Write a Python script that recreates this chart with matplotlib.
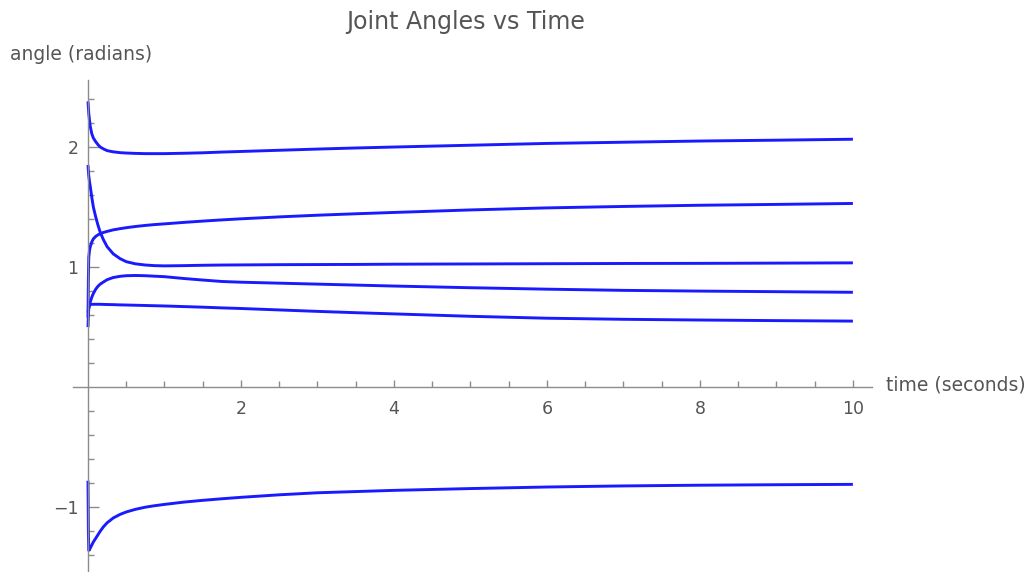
import numpy as np
import matplotlib
matplotlib.use('Agg')
import matplotlib.pyplot as plt
from matplotlib.ticker import FixedLocator

# time samples (seconds)
t = [0, 0.005, 0.01, 0.02, 0.03, 0.05, 0.07, 0.1, 0.13, 0.16, 0.2, 0.25, 0.33, 0.42, 0.5,
     0.62, 0.75, 0.87, 1.0, 1.25, 1.5, 1.75, 2, 2.5, 3, 3.5, 4, 5, 6, 7, 8, 9, 10]

# joint angles (radians)
theta_1 = [2.38, 2.33, 2.28, 2.22, 2.17, 2.11, 2.075, 2.045, 2.02, 2.0, 1.985, 1.97, 1.96, 1.953, 1.95,
           1.947, 1.945, 1.945, 1.945, 1.948, 1.952, 1.958, 1.963, 1.973, 1.983, 1.992, 2.0, 2.015, 2.03, 2.04, 2.05, 2.057, 2.065]
theta_2 = [0.58, 0.9, 1.08, 1.14, 1.17, 1.21, 1.235, 1.255, 1.268, 1.278, 1.288, 1.297, 1.31, 1.32, 1.328,
           1.338, 1.347, 1.354, 1.36, 1.372, 1.383, 1.393, 1.402, 1.418, 1.432, 1.444, 1.455, 1.476, 1.493, 1.505, 1.515, 1.522, 1.53]
theta_3 = [1.85, 1.80, 1.76, 1.71, 1.67, 1.58, 1.50, 1.42, 1.35, 1.29, 1.23, 1.17, 1.11, 1.07, 1.045,
           1.027, 1.017, 1.012, 1.01, 1.012, 1.015, 1.017, 1.018, 1.02, 1.021, 1.022, 1.024, 1.026, 1.028, 1.03, 1.031, 1.033, 1.035]
theta_4 = [0.62, 0.64, 0.66, 0.685, 0.71, 0.75, 0.78, 0.815, 0.84, 0.858, 0.875, 0.895, 0.913, 0.923, 0.928,
           0.93, 0.928, 0.924, 0.92, 0.905, 0.892, 0.88, 0.874, 0.866, 0.858, 0.85, 0.842, 0.828, 0.816, 0.806, 0.8, 0.795, 0.79]
theta_5 = [0.50, 0.6, 0.655, 0.68, 0.688, 0.69, 0.69, 0.69, 0.69, 0.69, 0.689, 0.688, 0.687, 0.685, 0.684,
           0.682, 0.68, 0.678, 0.676, 0.671, 0.666, 0.66, 0.655, 0.643, 0.631, 0.62, 0.61, 0.59, 0.574, 0.565, 0.559, 0.554, 0.55]
theta_6 = [-0.78, -1.2, -1.36, -1.355, -1.34, -1.315, -1.29, -1.26, -1.23, -1.2, -1.165, -1.13, -1.09, -1.06, -1.04,
           -1.018, -1.0, -0.988, -0.977, -0.958, -0.943, -0.93, -0.918, -0.897, -0.88, -0.87, -0.86, -0.845, -0.832, -0.823, -0.817, -0.813, -0.81]

x_ticks = [2, 4, 6, 8, 10]
y_ticks = [-1, 1, 2]

W, H = 1033, 572
fig = plt.figure(figsize=(W / 100, H / 100), dpi=100)
# axes box in pixels: left 72.7, right 872, top 79.8, bottom 572
ax = fig.add_axes([72.7 / W, 0.0, (872 - 72.7) / W, (572 - 79.8) / H])

line_col = '#1a1aff'
for th in [theta_1, theta_2, theta_3, theta_4, theta_5, theta_6]:
    ax.plot(t, th, color=line_col, lw=2.1, solid_capstyle='butt', solid_joinstyle='round')

ax.set_xlim(-0.2, 10.25)
ax.set_ylim(-1.54, 2.56)

axis_col = '#8c8c8c'
for s in ['top', 'right']:
    ax.spines[s].set_visible(False)
for s in ['left', 'bottom']:
    ax.spines[s].set_position(('data', 0))
    ax.spines[s].set_color(axis_col)
    ax.spines[s].set_linewidth(1.0)

ax.xaxis.set_major_locator(FixedLocator(x_ticks))
ax.xaxis.set_minor_locator(FixedLocator([v for v in np.arange(0.5, 10.01, 0.5) if v not in x_ticks]))
ax.yaxis.set_major_locator(FixedLocator(y_ticks))
ax.yaxis.set_minor_locator(FixedLocator([v for v in np.round(np.arange(-1.4, 2.41, 0.2), 2) if v not in y_ticks and v != 0]))

txt_col = '#555555'
ax.tick_params(axis='both', which='major', direction='in', color=axis_col, width=1.0,
               labelcolor=txt_col, labelsize=12.5)
ax.tick_params(axis='x', which='major', length=5, pad=9)
ax.tick_params(axis='y', which='major', length=8, pad=7)
ax.tick_params(axis='both', which='minor', direction='in', color=axis_col, width=1.0, length=4)
ax.set_xticklabels([str(v) for v in x_ticks])
ax.set_yticklabels(['\u22121', '1', '2'])

fig.text(466 / W, 1 - 22 / H, 'Joint Angles vs Time', ha='center', va='center',
         fontsize=17, color=txt_col)
fig.text(10 / W, 1 - 54 / H, 'angle (radians)', ha='left', va='center',
         fontsize=13.5, color=txt_col)
fig.text(886 / W, 1 - 385 / H, 'time (seconds)', ha='left', va='center',
         fontsize=13.5, color=txt_col)

plt.savefig('out.png', dpi=100)
